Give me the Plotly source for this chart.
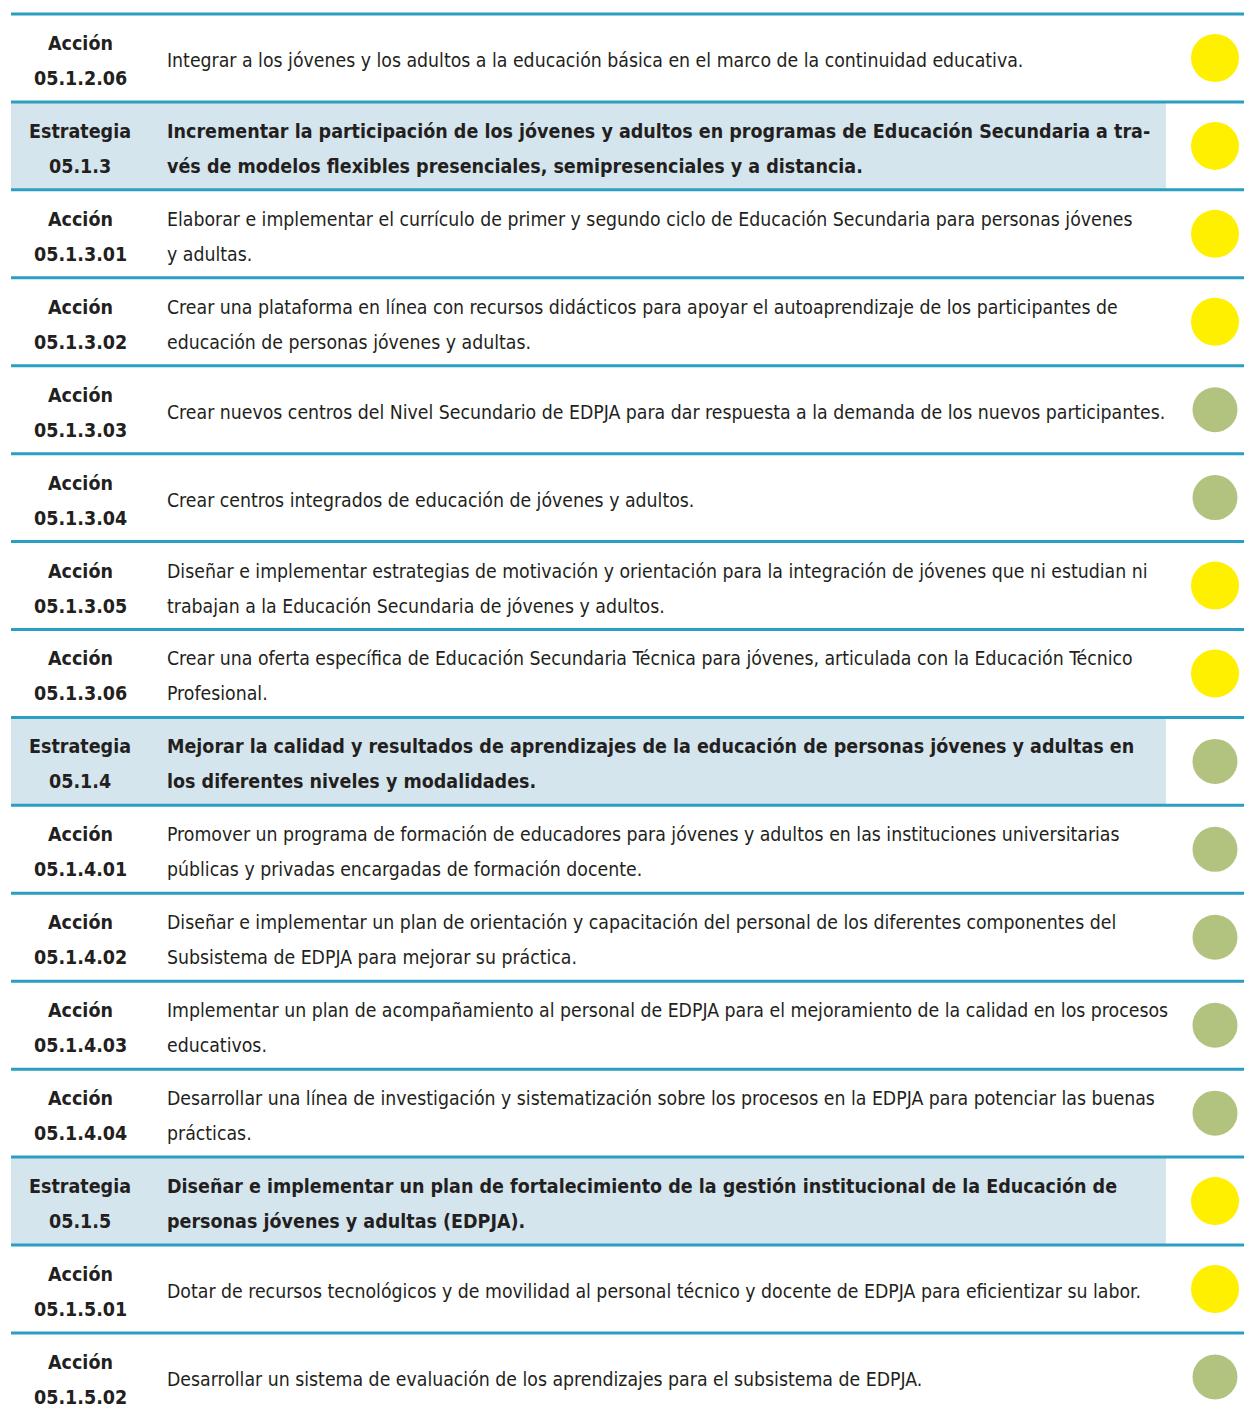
import plotly.graph_objects as go

# ---------------- data ----------------
row_types = ["Acción", "Estrategia", "Acción", "Acción", "Acción", "Acción", "Acción", "Acción",
             "Estrategia", "Acción", "Acción", "Acción", "Acción", "Estrategia", "Acción", "Acción"]
codes = ["05.1.2.06", "05.1.3", "05.1.3.01", "05.1.3.02", "05.1.3.03", "05.1.3.04", "05.1.3.05",
         "05.1.3.06", "05.1.4", "05.1.4.01", "05.1.4.02", "05.1.4.03", "05.1.4.04", "05.1.5",
         "05.1.5.01", "05.1.5.02"]
descriptions = [
    ["Integrar a los jóvenes y los adultos a la educación básica en el marco de la continuidad educativa."],
    ["Incrementar la participación de los jóvenes y adultos en programas de Educación Secundaria a tra-",
     "vés de modelos flexibles presenciales, semipresenciales y a distancia."],
    ["Elaborar e implementar el currículo de primer y segundo ciclo de Educación Secundaria para personas jóvenes",
     "y adultas."],
    ["Crear una plataforma en línea con recursos didácticos para apoyar el autoaprendizaje de los participantes de",
     "educación de personas jóvenes y adultas."],
    ["Crear nuevos centros del Nivel Secundario de EDPJA para dar respuesta a la demanda de los nuevos participantes."],
    ["Crear centros integrados de educación de jóvenes y adultos."],
    ["Diseñar e implementar estrategias de motivación y orientación para la integración de jóvenes que ni estudian ni",
     "trabajan a la Educación Secundaria de jóvenes y adultos."],
    ["Crear una oferta específica de Educación Secundaria Técnica para jóvenes, articulada con la Educación Técnico",
     "Profesional."],
    ["Mejorar la calidad y resultados de aprendizajes de la educación de personas jóvenes y adultas en",
     "los diferentes niveles y modalidades."],
    ["Promover un programa de formación de educadores para jóvenes y adultos en las instituciones universitarias",
     "públicas y privadas encargadas de formación docente."],
    ["Diseñar e implementar un plan de orientación y capacitación del personal de los diferentes componentes del",
     "Subsistema de EDPJA para mejorar su práctica."],
    ["Implementar un plan de acompañamiento al personal de EDPJA para el mejoramiento de la calidad en los procesos",
     "educativos."],
    ["Desarrollar una línea de investigación y sistematización sobre los procesos en la EDPJA para potenciar las buenas",
     "prácticas."],
    ["Diseñar e implementar un plan de fortalecimiento de la gestión institucional de la Educación de",
     "personas jóvenes y adultas (EDPJA)."],
    ["Dotar de recursos tecnológicos y de movilidad al personal técnico y docente de EDPJA para eficientizar su labor."],
    ["Desarrollar un sistema de evaluación de los aprendizajes para el subsistema de EDPJA."],
]
status = ["amarillo", "amarillo", "amarillo", "amarillo", "verde", "verde", "amarillo", "amarillo",
          "verde", "verde", "verde", "verde", "verde", "amarillo", "amarillo", "verde"]

# ---------------- styles ----------------
PAGE_W, PAGE_H = 1252, 1414
OFF = 8                       # default page margin around the plot div
W, H = PAGE_W - OFF, PAGE_H - OFF
TOP_PX, ROW_PX = 14, 87.93
X_LEFT, X_SPLIT, X_RIGHT = 11, 1166, 1252
X_LABEL, X_DESC, X_DOT = 80, 165, 1215
LINE_COLOR = "#2b9fc1"
SHADE = "#d5e5ee"
TXT = "#231f20"
FONT = "DejaVu Sans Condensed, Liberation Sans Narrow, Arial Narrow, sans-serif"
DOT_COLORS = {"amarillo": "#fff000", "verde": "#b2c27f"}
DOT_SIZES = {"amarillo": 48, "verde": 45}
LINE_GAP = 35 / ROW_PX
TXT_SHIFT = 3 / ROW_PX

n = len(codes)
y_top = (OFF - TOP_PX) / ROW_PX
y_bot = (PAGE_H - TOP_PX) / ROW_PX

fig = go.Figure()

shapes = []
for i, t in enumerate(row_types):
    if t == "Estrategia":
        shapes.append(dict(type="rect", xref="x", yref="y", x0=X_LEFT, x1=X_SPLIT, y0=i, y1=i + 1,
                           fillcolor=SHADE, line=dict(width=0), layer="below"))

# horizontal rules
lx, ly = [], []
for b in range(n + 1):
    lx += [X_LEFT, X_RIGHT, None]
    ly += [b, b, None]
fig.add_trace(go.Scatter(x=lx, y=ly, mode="lines", line=dict(color=LINE_COLOR, width=3),
                         hoverinfo="skip", showlegend=False))

# status dots
for key in ["amarillo", "verde"]:
    idx = [i for i, s in enumerate(status) if s == key]
    fig.add_trace(go.Scatter(x=[X_DOT] * len(idx), y=[i + 0.5 for i in idx], mode="markers",
                             marker=dict(color=DOT_COLORS[key], size=DOT_SIZES[key], line=dict(width=0)),
                             hoverinfo="skip", showlegend=False))

annotations = []
for i in range(n):
    yc = i + 0.5 + TXT_SHIFT
    for k, txt in enumerate([row_types[i], codes[i]]):
        annotations.append(dict(x=X_LABEL, y=yc + (k - 0.5) * LINE_GAP, xref="x", yref="y",
                                text="<b>" + txt + "</b>", showarrow=False, xanchor="center",
                                yanchor="middle", font=dict(family=FONT, size=19.5, color=TXT)))
    lines = descriptions[i]
    m = len(lines)
    bold = row_types[i] == "Estrategia"
    for k, txt in enumerate(lines):
        yy = yc + (k - (m - 1) / 2) * LINE_GAP
        annotations.append(dict(x=X_DESC, y=yy, xref="x", yref="y",
                                text=("<b>" + txt + "</b>") if bold else txt, showarrow=False,
                                xanchor="left", yanchor="middle",
                                font=dict(family=FONT, size=19.5 if bold else 19.3, color=TXT)))

fig.update_layout(
    width=W, height=H, margin=dict(l=0, r=0, t=0, b=0),
    paper_bgcolor="white", plot_bgcolor="white",
    xaxis=dict(range=[OFF, PAGE_W], visible=False, fixedrange=True),
    yaxis=dict(range=[y_bot, y_top], visible=False, fixedrange=True),
    shapes=shapes, annotations=annotations, showlegend=False,
)

fig.write_html("out.html")
